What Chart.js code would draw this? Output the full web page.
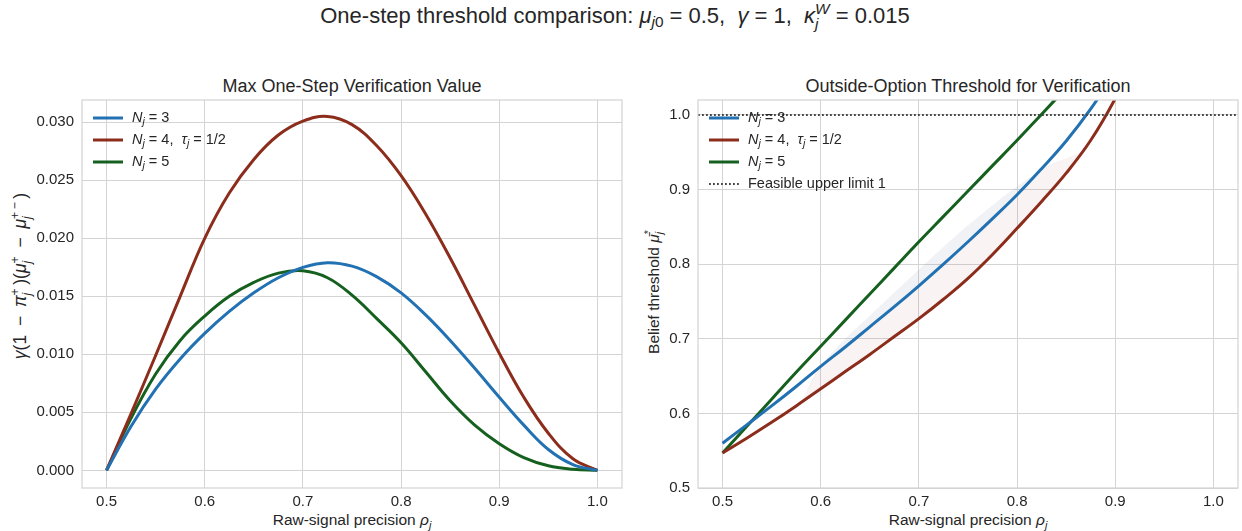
<!DOCTYPE html>
<html>
<head>
<meta charset="utf-8">
<script src="https://cdn.jsdelivr.net/npm/chart.js@4.4.0/dist/chart.umd.min.js"></script>
<style>
body { margin: 0; width: 1242px; height: 531px; position: relative; overflow: hidden; background: #fff;
       font-family: "Liberation Sans", Arial, sans-serif; color: #262626; }
canvas { position: absolute; top: 0; }
.lbl { position: absolute; white-space: nowrap; transform: translate(-50%, -50%); line-height: 1; }
.rot { transform: translate(-50%, -50%) rotate(-90deg); }
sub { font-size: 0.7em; vertical-align: -0.3em; line-height: 0; }
.ss { display: inline-flex; flex-direction: column; font-size: 0.7em; line-height: 1; vertical-align: 0.6em; }
</style>
</head>
<body>
<div class="lbl" style="left:615px;top:16px;font-size:22px">One-step threshold comparison: <i>μ</i><sub><i>j</i>0</sub> = 0.5,&nbsp; <i>γ</i> = 1,&nbsp; <i>κ</i><span class="ss"><span><i>W</i></span><span><i>j</i></span></span> = 0.015</div>
<div class="lbl" style="left:352px;top:86px;font-size:18px">Max One-Step Verification Value</div>
<div class="lbl" style="left:968px;top:86px;font-size:18px">Outside-Option Threshold for Verification</div>
<div class="lbl" style="left:352px;top:520px;font-size:15.5px">Raw-signal precision <i>ρ</i><sub><i>j</i></sub></div>
<div class="lbl" style="left:968px;top:520px;font-size:15.5px">Raw-signal precision <i>ρ</i><sub><i>j</i></sub></div>
<div class="lbl rot" style="left:21px;top:276px;font-size:17.5px"><i>γ</i>(1&ensp;−&ensp;<i>π</i><span class="ss"><span>+</span><span><i>j</i></span></span>&thinsp;)(<i>μ</i><span class="ss"><span>+</span><span><i>j</i></span></span>&ensp;−&ensp;<i>μ</i><span class="ss"><span>+&thinsp;−</span><span><i>j</i></span></span>&thinsp;)</div>
<div class="lbl rot" style="left:654px;top:292px;font-size:15.5px">Belief threshold <i>μ̄</i><span class="ss"><span>*</span><span><i>j</i></span></span></div>

<canvas id="left" width="631" height="531" style="left:0"></canvas>
<canvas id="right" width="611" height="531" style="left:631px"></canvas>

<script>
// ---- data ----
const rho = [0.5, 0.525, 0.55, 0.575, 0.6, 0.625, 0.65, 0.675, 0.7, 0.725, 0.75,
             0.775, 0.8, 0.825, 0.85, 0.875, 0.9, 0.925, 0.95, 0.975, 1.0];

// left panel: max one-step verification value
const valueN3 = [0, 0.0038, 0.0070, 0.0096, 0.0118, 0.0137, 0.0153, 0.0166, 0.0175, 0.0179, 0.0176,
                 0.0167, 0.0153, 0.0134, 0.0112, 0.0088, 0.0063, 0.0039, 0.0018, 0.0005, 0];
const valueN4 = [0, 0.0049, 0.0099, 0.0150, 0.0200, 0.0239, 0.0268, 0.0289, 0.0301, 0.0305, 0.0298,
                 0.0280, 0.0254, 0.0221, 0.0183, 0.0142, 0.0101, 0.0063, 0.0032, 0.0010, 0];
const valueN5 = [0, 0.0045, 0.0083, 0.0112, 0.0133, 0.0150, 0.0162, 0.0170, 0.0172, 0.0166, 0.0151,
                 0.0131, 0.0110, 0.0085, 0.0060, 0.0039, 0.0023, 0.0011, 0.0004, 0.0001, 0];

// right panel: belief threshold (null once the curve has left the plot)
const threshN3 = [0.560, 0.585, 0.610, 0.636, 0.663, 0.689, 0.716, 0.743, 0.771, 0.800, 0.830,
                  0.861, 0.893, 0.928, 0.965, 1.008, 1.058, null, null, null, null];
const threshN4 = [0.547, 0.567, 0.588, 0.610, 0.633, 0.656, 0.679, 0.703, 0.727, 0.753, 0.781,
                  0.813, 0.848, 0.884, 0.922, 0.966, 1.022, 1.090, null, null, null];
const threshN5 = [0.547, 0.583, 0.619, 0.655, 0.690, 0.725, 0.760, 0.795, 0.830, 0.864, 0.898,
                  0.932, 0.966, 1.001, 1.036, null, null, null, null, null, null];
const upperLimit = 1.0;

// faint shaded band in the right panel
const bandRho   = [0.58, 0.6, 0.625, 0.65, 0.675, 0.7, 0.725, 0.75, 0.775, 0.8, 0.825, 0.85, 0.866];
const bandUpper = [0.615, 0.662, 0.700, 0.731, 0.762, 0.793, 0.823, 0.852, 0.879, 0.904, 0.926, 0.942, 0.950];
const bandBlue  = [0.641, 0.663, 0.689, 0.716, 0.743, 0.771, 0.800, 0.830, 0.861, 0.893, 0.928, 0.965, 0.997];
const bandLower = [0.615, 0.633, 0.656, 0.679, 0.703, 0.727, 0.753, 0.781, 0.813, 0.848, 0.884, 0.922, 0.950];

const xTicks = [0.5, 0.6, 0.7, 0.8, 0.9, 1.0];
const yTicksLeft = [0, 0.005, 0.010, 0.015, 0.020, 0.025, 0.030];
const yTicksRight = [0.5, 0.6, 0.7, 0.8, 0.9, 1.0];
const xMin = 0.475, xMax = 1.025;

const FONT = '"Liberation Sans", Arial, sans-serif';
const TEXT = '#262626';
const GRID = '#d4d4d4';
const BLUE = '#2271b3', RED = '#8c2d1c', GREEN = '#15601f';

const pts = (xs, ys) => xs.map((x, i) => ({x: x, y: ys[i]}));

function line(label, data, color) {
    return {label, data, borderColor: color, borderWidth: 3, pointRadius: 0,
            tension: 0.4, fill: false, spanGaps: false, clip: 0};
}

// legend with mixed italic / subscript runs, drawn inside the axes
function drawRuns(ctx, runs, x, y) {
    runs.forEach(r => {
        const size = r.sub ? 10.5 : 14.5;
        ctx.font = (r.i ? 'italic ' : '') + size + 'px ' + FONT;
        ctx.fillText(r.t, x, y + (r.sub ? 4 : 0));
        x += ctx.measureText(r.t).width;
    });
}

const richLegend = {
    id: 'richLegend',
    afterDatasetsDraw(chart, args, opts) {
        const ctx = chart.ctx, a = chart.chartArea;
        let y = a.top + 18;
        ctx.save();
        ctx.textBaseline = 'middle';
        ctx.fillStyle = TEXT;
        opts.items.forEach(item => {
            const ds = chart.data.datasets[item.ds];
            ctx.strokeStyle = ds.borderColor;
            ctx.lineWidth = ds.borderWidth;
            ctx.lineCap = 'butt';
            ctx.setLineDash(ds.borderDash || []);
            ctx.beginPath();
            ctx.moveTo(a.left + 11, y);
            ctx.lineTo(a.left + 41, y);
            ctx.stroke();
            ctx.setLineDash([]);
            drawRuns(ctx, item.runs, a.left + 50, y);
            y += 22;
        });
        ctx.restore();
    }
};

const frame = {
    id: 'frame',
    afterDraw(chart) {
        const ctx = chart.ctx, a = chart.chartArea;
        ctx.save();
        ctx.strokeStyle = GRID;
        ctx.lineWidth = 1.25;
        ctx.strokeRect(a.left, a.top, a.right - a.left, a.bottom - a.top);
        ctx.restore();
    }
};

const nj = n => [{t: 'N', i: 1}, {t: 'j', i: 1, sub: 1}, {t: ' = ' + n}];
const legendItems = [
    {ds: 0, runs: nj(3)},
    {ds: 1, runs: [{t: 'N', i: 1}, {t: 'j', i: 1, sub: 1}, {t: ' = 4,  '}, {t: 'τ', i: 1}, {t: 'j', i: 1, sub: 1}, {t: ' = 1/2'}]},
    {ds: 2, runs: nj(5)}
];

function scales(yMin, yMax, yTicks, yWidth, fmt) {
    return {
        x: {
            type: 'linear', min: xMin, max: xMax,
            afterBuildTicks: s => { s.ticks = xTicks.map(v => ({value: v})); },
            afterFit: s => { s.height = 43; },
            grid: {color: GRID, lineWidth: 1, drawTicks: false},
            border: {display: false},
            ticks: {color: TEXT, font: {family: FONT, size: 15}, padding: 5, maxRotation: 0,
                     callback: v => v.toFixed(1)}
        },
        y: {
            type: 'linear', min: yMin, max: yMax,
            afterBuildTicks: s => { s.ticks = yTicks.map(v => ({value: v})); },
            afterFit: s => { s.width = yWidth; },
            grid: {color: GRID, lineWidth: 1, drawTicks: false},
            border: {display: false},
            ticks: {color: TEXT, font: {family: FONT, size: 15}, padding: 8,
                     callback: v => v.toFixed(fmt)}
        }
    };
}

const common = {
    responsive: false, animation: false, devicePixelRatio: 1,
    events: []
};

new Chart(document.getElementById('left'), {
    type: 'line',
    data: {
        datasets: [
            line('N_j = 3', pts(rho, valueN3), BLUE),
            line('N_j = 4, tau_j = 1/2', pts(rho, valueN4), RED),
            line('N_j = 5', pts(rho, valueN5), GREEN)
        ]
    },
    options: Object.assign({}, common, {
        layout: {padding: {left: 0, right: 9, top: 100, bottom: 0}},
        scales: scales(-0.00152, 0.03192, yTicksLeft, 82, 3),
        plugins: {legend: {display: false}, tooltip: {enabled: false},
                  richLegend: {items: legendItems}}
    }),
    plugins: [frame, richLegend]
});

const bandMid = bandUpper.map((u, i) => Math.min(u, bandBlue[i]));

new Chart(document.getElementById('right'), {
    type: 'line',
    data: {
        datasets: [
            line('N_j = 3', pts(rho, threshN3), BLUE),
            line('N_j = 4, tau_j = 1/2', pts(rho, threshN4), RED),
            line('N_j = 5', pts(rho, threshN5), GREEN),
            Object.assign(line('Feasible upper limit 1', pts([xMin, xMax], [upperLimit, upperLimit]), '#444444'),
                          {borderWidth: 2, borderDash: [1.8, 2.2], tension: 0, order: -1}),
            {label: 'band upper', data: pts(bandRho, bandUpper), borderWidth: 0, pointRadius: 0, tension: 0.4,
             fill: 5, backgroundColor: 'rgba(70,80,120,0.075)', order: 5},
            {label: 'band mid', data: pts(bandRho, bandMid), borderWidth: 0, pointRadius: 0, tension: 0.4,
             fill: 6, backgroundColor: 'rgba(140,60,45,0.055)', order: 5},
            {label: 'band lower', data: pts(bandRho, bandLower), borderWidth: 0, pointRadius: 0, tension: 0.4,
             fill: false, order: 5}
        ]
    },
    options: Object.assign({}, common, {
        layout: {padding: {left: 0, right: 4, top: 100, bottom: 0}},
        scales: scales(0.5, 1.02, yTicksRight, 67, 1),
        plugins: {legend: {display: false}, tooltip: {enabled: false},
                  filler: {propagate: false},
                  richLegend: {items: legendItems.concat([{ds: 3, runs: [{t: 'Feasible upper limit 1'}]}])}}
    }),
    plugins: [frame, richLegend]
});
</script>
</body>
</html>
